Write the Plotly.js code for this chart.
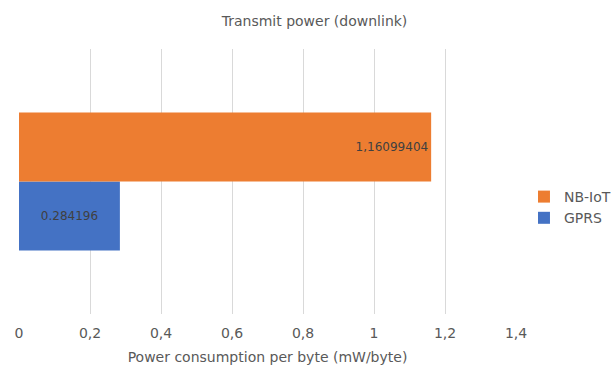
<!DOCTYPE html>
<html><head><meta charset="utf-8">
<script src="https://cdn.plot.ly/plotly-3.0.1.min.js"></script>
<style>body{margin:0;background:#fff}#chart{width:616px;height:367px}</style>
</head><body><div id="chart"></div>
<script>
const category = ['Transmit power (downlink)'];
const seriesNames = ['GPRS', 'NB-IoT'];
const gprsValues = [0.284196];
const nbiotValues = [1.16099404];
const gprsLabels = ['0.284196'];
const nbiotLabels = ['1,16099404'];
const tickVals = [0, 0.2, 0.4, 0.6, 0.8, 1, 1.2, 1.4];
const tickText = ['0', '0,2', '0,4', '0,6', '0,8', '1', '1,2', '1,4'];

const font = 'DejaVu Sans, sans-serif';
const data = [
  {type: 'bar', orientation: 'h', name: seriesNames[0], legendgroup: 'g1', y: category, x: gprsValues,
   text: gprsLabels, textposition: 'inside', insidetextanchor: 'middle',
   textfont: {family: font, size: 12, color: '#404040'},
   marker: {color: '#4472c4'}, hoverinfo: 'x+name'},
  {type: 'bar', orientation: 'h', name: seriesNames[1], legendgroup: 'g2', y: category, x: nbiotValues,
   text: nbiotLabels, textposition: 'inside', insidetextanchor: 'end',
   textfont: {family: font, size: 12, color: '#404040'},
   marker: {color: '#ed7d31'}, hoverinfo: 'x+name'}
];
const layout = {
  width: 616, height: 367,
  margin: {l: 19, r: 100, t: 49, b: 53},
  paper_bgcolor: '#fff', plot_bgcolor: '#fff',
  font: {family: font, color: '#595959', size: 14},
  title: {text: 'Transmit power (downlink)', font: {family: font, size: 14, color: '#595959'},
          xref: 'container', x: 0.5106, xanchor: 'center', yref: 'container', y: 0.942, yanchor: 'middle'},
  barmode: 'group', bargap: 0.48, bargroupgap: 0,
  xaxis: {range: [0, 1.4], tickvals: tickVals, ticktext: tickText, showgrid: true, gridcolor: '#d9d9d9', gridwidth: 1,
          zeroline: false, showline: false, ticks: '', ticklen: 0, ticklabelstandoff: 9, automargin: false,
          tickfont: {family: font, size: 14, color: '#595959'},
          title: {text: 'Power consumption per byte (mW/byte)', font: {family: font, size: 14, color: '#595959'}, standoff: 12}},
  yaxis: {showticklabels: false, showgrid: false, zeroline: false, showline: false, ticks: '', automargin: false},
  showlegend: true,
  legend: {xref: 'container', x: 0.8506, xanchor: 'left', yref: 'container', y: 0.4346, yanchor: 'middle',
           traceorder: 'reversed', itemwidth: 30, tracegroupgap: 5,
           font: {family: font, size: 14, color: '#595959'}, bgcolor: 'rgba(0,0,0,0)'}
};
Plotly.newPlot('chart', data, layout, {displayModeBar: false, staticPlot: true});
</script></body></html>
